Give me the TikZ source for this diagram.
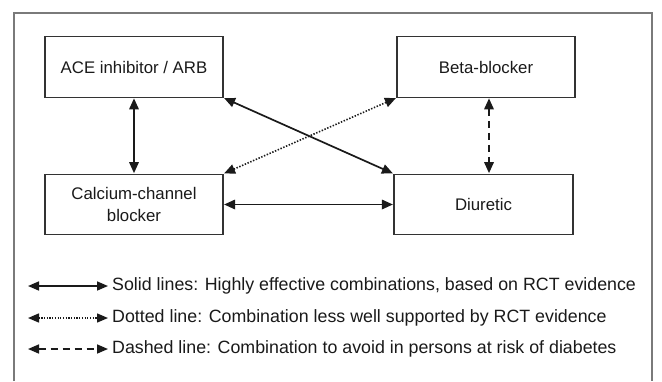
\documentclass[tikz,border=0pt]{standalone}
\usepackage{fontspec}
\setmainfont{Liberation Sans}
\usetikzlibrary{arrows.meta}
\definecolor{framegray}{HTML}{7A7A7A}
\definecolor{boxgray}{HTML}{333333}
\definecolor{ink}{HTML}{1A1A1A}
\begin{document}
\begin{tikzpicture}[x=1bp,y=-1bp,
  drug/.style={draw=boxgray, line width=1.2bp, rectangle, minimum width=178bp, minimum height=60.5bp, inner sep=0pt, align=center, font=\fontsize{16.8bp}{22bp}\selectfont, text=ink},
  link/.style={draw=ink, line width=1.7bp, {Triangle[length=11bp,width=9.5bp]}-{Triangle[length=11bp,width=9.5bp]}, shorten <=0.5bp, shorten >=0.5bp},
  dottedlink/.style={link, line width=1.6bp, dash pattern=on 1.4bp off 1.6bp},
  dashedlink/.style={link, dash pattern=on 7bp off 5bp},
  legtext/.style={anchor=west, inner sep=0pt, font=\fontsize{17.8bp}{20bp}\selectfont, text=ink},
  legarrow/.style={draw=ink, line width=1.6bp, {Triangle[length=11bp,width=9bp]}-{Triangle[length=11bp,width=9bp]}}
]
\useasboundingbox (0,0) rectangle (662,381);
\fill[white] (0,0) rectangle (662,381);
\draw[framegray, line width=1.6bp] (14,381) -- (14,13) -- (652,13) -- (652,381);

\node[drug] (ace) at (134,67) {ACE inhibitor / ARB};
\node[drug] (beta) at (486,67) {Beta-blocker};
\node[drug] (ccb) at (134,204.5) {Calcium-channel\\blocker};
\node[drug, minimum width=179bp] (diu) at (483.5,204.5) {Diuretic};

\draw[link] (ace.south) -- (ccb.north);
\draw[link] (ace.south east) -- (diu.north west);
\draw[dottedlink] (ccb.north east) -- (beta.south west);
\draw[dashedlink] ([xshift=3bp]beta.south) -- ([xshift=3bp]beta.south |- diu.north);
\draw[link] (ccb.east) -- (diu.west);

\coordinate (l1a) at (28,286);
\coordinate (l1b) at (108,286);
\coordinate (l2a) at (28,318);
\coordinate (l2b) at (108,318);
\coordinate (l3a) at (28,349);
\coordinate (l3b) at (108,349);
\draw[legarrow] (l1a) -- (l1b);
\draw[legarrow, line width=1.4bp, dash pattern=on 1.2bp off 1.5bp] (l2a) -- (l2b);
\draw[legarrow, dash pattern=on 7bp off 5bp] (l3a) -- (l3b);
\node[legtext] (t1) at (112,286) {Solid lines: Highly effective combinations, based on RCT evidence};
\node[legtext] (t2) at (112,318) {Dotted line: Combination less well supported by RCT evidence};
\node[legtext] (t3) at (112,349) {Dashed line: Combination to avoid in persons at risk of diabetes};
\end{tikzpicture}
\end{document}
